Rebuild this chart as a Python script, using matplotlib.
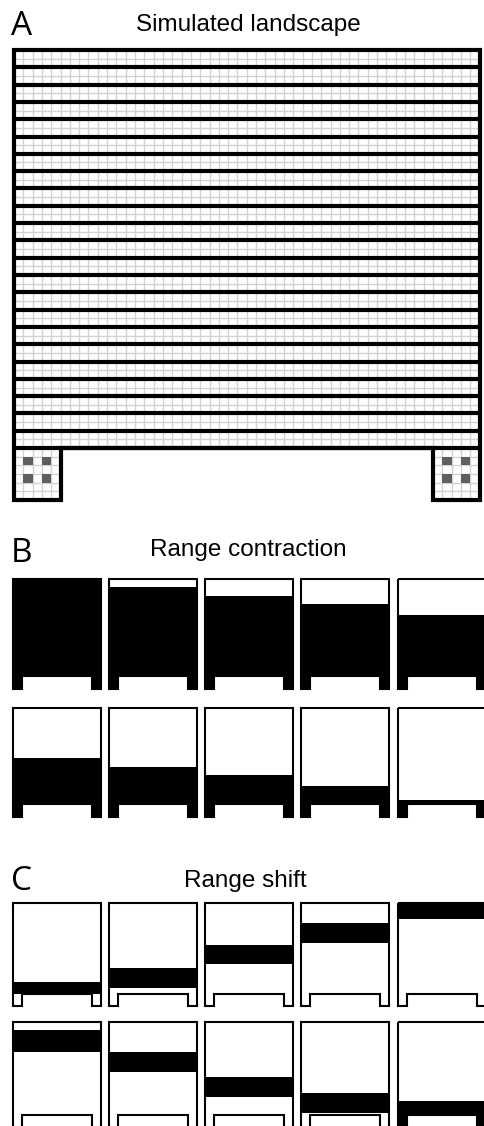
import matplotlib
matplotlib.use("Agg")
import matplotlib.pyplot as plt
from matplotlib.patches import Polygon, Rectangle

# figure size in pixels (dpi 100)
W, H = 484, 1126

# Landscape layout, in cells
n_cols = 50          # columns of the main area
n_rows = 46          # rows of the main area
foot_rows = 6        # rows of the two source squares
foot_cols = 5
strip_rows = 2       # rows between two barrier lines
# dark cells inside each foot square: (col, row counted from top)
foot_dots = [(1, 1), (3, 1), (1, 3), (3, 3)]

# Panel B: first occupied row (counted from top) at each step
contract_top = [0, 4, 8, 12, 17, 24, 28, 32, 37, 44]
contract_feet = [True] * 10

# Panel C: occupied band (top row, bottom row) at each step
shift_top = [40, 33, 21, 10, 0, 4, 15, 27, 35, 39]
shift_bottom = [46, 43, 31, 20, 8, 15, 25, 37, 45, 46]
shift_feet = [False] * 9 + [True]

TOTAL = n_rows + foot_rows


def px_axes(fig, left, top, right, bottom):
    """Add an axes placed by pixel box, data range = landscape cells."""
    ax = fig.add_axes([left / W, 1 - bottom / H, (right - left) / W, (bottom - top) / H])
    ax.set_xlim(0, n_cols)
    ax.set_ylim(0, TOTAL)
    ax.axis("off")
    return ax


def outline(ax, lw):
    pts = [(0, TOTAL), (n_cols, TOTAL), (n_cols, 0), (n_cols - foot_cols, 0),
           (n_cols - foot_cols, foot_rows), (foot_cols, foot_rows), (foot_cols, 0), (0, 0)]
    ax.add_patch(Polygon(pts, closed=True, fill=False, edgecolor="black", lw=lw,
                         joinstyle="miter", clip_on=False, zorder=5))


def fill_band(ax, r0, r1, feet):
    ax.add_patch(Rectangle((0, TOTAL - r1), n_cols, r1 - r0, color="black", lw=0))
    if feet:
        ax.add_patch(Rectangle((0, 0), foot_cols, foot_rows, color="black", lw=0))
        ax.add_patch(Rectangle((n_cols - foot_cols, 0), foot_cols, foot_rows, color="black", lw=0))


fig = plt.figure(figsize=(W / 100, H / 100), dpi=100)

letter_font = dict(family=["Open Sans", "DejaVu Sans"], fontsize=24)
title_font = dict(family=["Liberation Sans", "DejaVu Sans"], fontsize=17.5)

# ---------------- Panel A ----------------
ax = px_axes(fig, 14, 50, 479.5, 500)
grid_kw = dict(color="#d2d2d2", lw=1.0, zorder=1)
ax.vlines(range(0, n_cols + 1), foot_rows, TOTAL, **grid_kw)
ax.hlines(range(foot_rows, TOTAL + 1), 0, n_cols, **grid_kw)
for x0 in (0, n_cols - foot_cols):
    ax.vlines(range(x0, x0 + foot_cols + 1), 0, foot_rows, **grid_kw)
    ax.hlines(range(0, foot_rows + 1), x0, x0 + foot_cols, **grid_kw)
    for c, r in foot_dots:
        ax.add_patch(Rectangle((x0 + c, foot_rows - 1 - r), 1, 1, color="#5f5f5f", lw=0, zorder=2))
ax.hlines(range(foot_rows, TOTAL, strip_rows), 0, n_cols, color="black", lw=3.0, zorder=4)
outline(ax, 3.0)

fig.text(11 / W, 1 - 35 / H, "A", ha="left", va="baseline", **letter_font)
fig.text(248 / W, 1 - 31 / H, "Simulated landscape", ha="center", va="baseline", **title_font)

# ---------------- Panels B and C ----------------
col_left = [12, 108, 204, 300, 397]
b_rows = [(579, 689), (708, 817)]
c_rows = [(903, 1006), (1022, 1127)]

for i, top in enumerate(contract_top):
    t, b = b_rows[i // 5]
    left = col_left[i % 5]
    ax = px_axes(fig, left + 1, t, left + 89, b)
    fill_band(ax, top, n_rows, contract_feet[i])
    outline(ax, 1.5)

for i, (top, bot) in enumerate(zip(shift_top, shift_bottom)):
    t, b = c_rows[i // 5]
    left = col_left[i % 5]
    ax = px_axes(fig, left + 1, t, left + 89, b)
    fill_band(ax, top, bot, shift_feet[i])
    outline(ax, 1.5)

fig.text(11 / W, 1 - 562 / H, "B", ha="left", va="baseline", **letter_font)
fig.text(248 / W, 1 - 556 / H, "Range contraction", ha="center", va="baseline", **title_font)
fig.text(11 / W, 1 - 890 / H, "C", ha="left", va="baseline", **letter_font)
fig.text(245 / W, 1 - 887 / H, "Range shift", ha="center", va="baseline", **title_font)

fig.savefig("out.png", dpi=100)
